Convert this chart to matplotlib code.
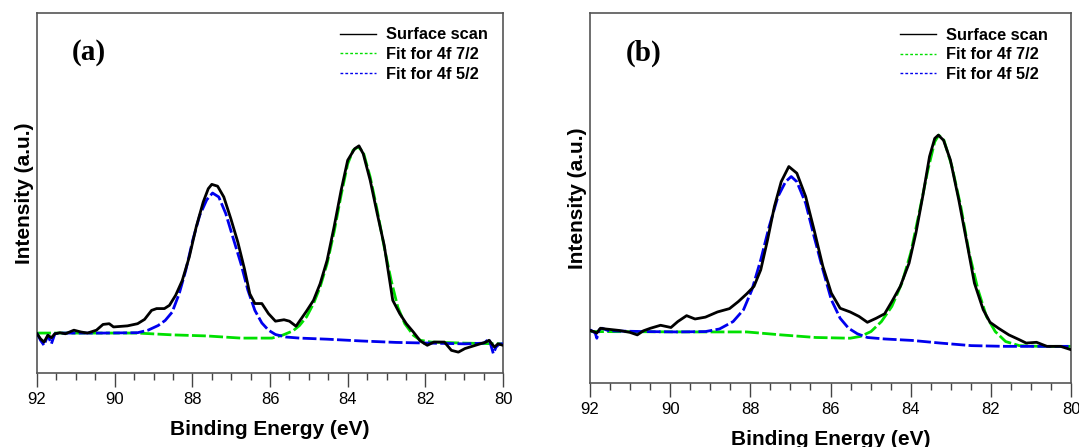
import matplotlib
matplotlib.use("Agg")
import matplotlib.pyplot as plt
from matplotlib.ticker import MultipleLocator

# XPS 4f region, two samples. Intensities in arbitrary units (0-100 of plot height).
e_scan_a = [92.00, 91.91, 91.82, 91.72, 91.63, 91.54, 91.41, 91.27, 91.05, 90.87, 90.70, 90.47,
            90.30, 90.14, 90.03, 89.67, 89.41, 89.23, 89.05, 88.92, 88.72, 88.59, 88.43, 88.26,
            88.08, 87.90, 87.72, 87.59, 87.50, 87.35, 87.19, 87.01, 86.83, 86.66, 86.52, 86.39,
            86.21, 86.04, 85.86, 85.64, 85.50, 85.33, 85.24, 85.06, 84.88, 84.71, 84.53, 84.35,
            84.17, 84.00, 83.82, 83.71, 83.60, 83.42, 83.24, 83.06, 82.84, 82.66, 82.49, 82.31,
            82.13, 81.95, 81.78, 81.51, 81.33, 81.15, 80.98, 80.71, 80.44, 80.36, 80.22, 80.13, 80.00]
i_scan_a = [10.9, 9.5, 8.6, 10.5, 9.8, 10.9, 11.2, 10.9, 11.9, 11.4, 11.1, 11.9,
            13.5, 13.7, 12.8, 13.1, 13.7, 14.9, 17.4, 17.9, 17.9, 18.8, 21.6, 25.7,
            32.2, 40.6, 47.5, 51.2, 52.4, 51.9, 48.9, 42.9, 36.4, 29.0, 22.0, 19.3,
            19.3, 16.5, 14.4, 14.8, 14.4, 13.0, 14.4, 17.2, 20.2, 24.8, 31.3, 40.6,
            50.7, 59.1, 62.3, 63.1, 60.9, 53.5, 44.3, 35.5, 20.2, 16.5, 13.7, 11.4,
            8.9, 7.7, 8.6, 8.6, 6.3, 5.8, 6.8, 7.7, 8.6, 9.1, 7.2, 8.1, 7.7]

e_f72_a = [92.00, 89.41, 88.52, 87.63, 86.75, 85.95, 85.68, 85.41, 85.24, 85.06, 84.88, 84.71,
           84.53, 84.35, 84.17, 84.00, 83.86, 83.73, 83.60, 83.42, 83.24, 83.06, 82.88, 82.71,
           82.53, 82.31, 82.13, 81.86, 80.98, 80.00]
i_f72_a = [11.1, 11.1, 10.6, 10.3, 9.7, 9.7, 10.5, 11.7, 13.2, 15.6, 19.3, 23.9,
           30.4, 39.2, 49.4, 58.1, 61.9, 62.8, 61.4, 54.4, 45.2, 35.0, 25.7, 18.3,
           13.7, 10.5, 9.1, 8.6, 8.3, 8.1]

e_f52_a = [92.00, 91.91, 91.82, 91.72, 91.63, 91.54, 91.41, 90.30, 89.41, 89.14, 88.88, 88.70,
           88.52, 88.34, 88.17, 87.99, 87.81, 87.63, 87.48, 87.32, 87.14, 86.97, 86.75, 86.57,
           86.39, 86.21, 86.04, 85.86, 85.59, 85.24, 84.53, 83.64, 82.75, 81.86, 80.98, 80.49,
           80.36, 80.25, 80.18, 80.09, 80.00]
i_f52_a = [11.1, 9.1, 7.7, 10.5, 8.1, 10.9, 11.1, 11.1, 11.2, 11.9, 13.2, 14.6,
           16.9, 22.0, 28.5, 36.9, 43.8, 48.1, 50.0, 48.9, 44.3, 38.2, 30.4, 23.0,
           17.4, 13.9, 11.9, 10.7, 10.0, 9.7, 9.4, 8.9, 8.5, 8.3, 8.1, 8.3,
           9.5, 5.4, 7.2, 8.1, 8.1]

e_scan_b = [92.00, 91.91, 91.83, 91.74, 91.61, 91.27, 91.01, 90.82, 90.67, 90.49, 90.24, 89.98,
            89.81, 89.59, 89.38, 89.12, 88.82, 88.52, 88.30, 88.09, 87.91, 87.74, 87.57, 87.40,
            87.23, 87.04, 86.84, 86.62, 86.41, 86.19, 85.98, 85.76, 85.51, 85.29, 85.08, 84.86,
            84.65, 84.47, 84.26, 84.04, 83.87, 83.70, 83.53, 83.40, 83.31, 83.18, 83.01, 82.80,
            82.58, 82.41, 82.19, 82.02, 81.81, 81.55, 81.29, 81.12, 80.86, 80.60, 80.26, 80.00]
i_scan_b = [14.2, 13.9, 13.5, 14.8, 14.6, 14.2, 13.7, 13.0, 14.1, 14.8, 15.6, 15.0,
            16.6, 18.2, 17.3, 17.8, 19.2, 20.1, 22.0, 24.1, 26.1, 30.6, 38.7, 47.7,
            54.4, 58.5, 56.7, 50.4, 41.4, 31.5, 24.3, 20.2, 19.2, 18.0, 16.4, 17.5,
            18.7, 22.0, 26.1, 32.4, 40.5, 50.4, 61.2, 66.1, 67.0, 65.6, 60.3, 49.5,
            36.9, 27.0, 19.8, 16.4, 14.8, 13.0, 11.7, 10.8, 11.0, 9.9, 9.9, 9.0]

e_f72_b = [92.00, 89.38, 88.95, 88.09, 87.23, 86.37, 85.51, 85.25, 84.99, 84.73, 84.47, 84.22,
           84.00, 83.79, 83.57, 83.40, 83.30, 83.17, 82.97, 82.75, 82.54, 82.32, 82.11, 81.89,
           81.63, 81.29, 80.77, 80.00]
i_f72_b = [13.9, 13.8, 13.8, 13.8, 13.0, 12.3, 12.1, 12.6, 13.9, 16.6, 20.7, 27.0,
           35.1, 45.9, 57.6, 65.2, 67.0, 65.6, 58.5, 47.7, 35.1, 25.2, 18.0, 13.9,
           11.2, 10.1, 9.9, 9.9]

e_f52_b = [92.00, 91.87, 91.83, 91.77, 91.70, 91.53, 90.67, 89.81, 89.12, 88.77, 88.43, 88.17,
           87.96, 87.74, 87.53, 87.31, 87.12, 86.98, 86.84, 86.62, 86.41, 86.19, 85.98, 85.76,
           85.55, 85.33, 85.08, 84.65, 83.96, 83.27, 82.49, 81.63, 80.77, 80.00]
i_f52_b = [14.4, 13.5, 12.1, 14.4, 14.8, 14.1, 13.9, 13.8, 13.9, 14.6, 16.6, 19.8,
           25.2, 33.3, 42.3, 50.4, 54.4, 55.8, 54.4, 48.6, 39.6, 30.6, 22.5, 17.5,
           14.8, 13.3, 12.3, 11.9, 11.5, 10.8, 10.1, 9.9, 9.9, 9.9]

xticks = [92, 90, 88, 86, 84, 82, 80]
series_labels = ["Surface scan", "Fit for 4f 7/2", "Fit for 4f 5/2"]

plt.rcParams["font.family"] = ["Liberation Sans", "DejaVu Sans"]

fig = plt.figure(figsize=(10.79, 4.47), dpi=100)
ax_a = fig.add_axes([0.0343, 0.1655, 0.4319, 0.8054])
ax_b = fig.add_axes([0.5468, 0.1432, 0.4458, 0.8277])

panels = [
    (ax_a, "(a)", e_scan_a, i_scan_a, e_f72_a, i_f72_a, e_f52_a, i_f52_a, 0.650),
    (ax_b, "(b)", e_scan_b, i_scan_b, e_f72_b, i_f72_b, e_f52_b, i_f52_b, 0.645),
]

for ax, tag, es, is_, eg, ig, eb, ib, leg_x in panels:
    ax.plot(es, is_, color="black", lw=2.0, zorder=4, label=series_labels[0])
    ax.plot(eg, ig, color="#00e000", lw=2.0, ls=(0, (5, 1.2)), zorder=2, label=series_labels[1])
    ax.plot(eb, ib, color="#0000ee", lw=2.0, ls=(0, (5, 1.2)), zorder=3, label=series_labels[2])

    ax.set_xlim(92, 80)
    ax.set_ylim(0, 100)
    ax.set_xticks(xticks)
    ax.xaxis.set_minor_locator(MultipleLocator(0.5))
    ax.set_yticks([])
    ax.tick_params(axis="x", which="major", direction="out", length=10, width=1,
                   color="#444444", labelsize=12, pad=4, top=False)
    ax.tick_params(axis="x", which="minor", direction="out", length=5, width=1,
                   color="#444444", top=False)
    for sp in ax.spines.values():
        sp.set_color("#555555")
        sp.set_linewidth(1.2)

    ax.set_xlabel("Binding Energy (eV)", fontsize=15, fontweight="bold", labelpad=9)
    ax.set_ylabel("Intensity (a.u.)", fontsize=15, fontweight="bold", labelpad=2)
    ax.text(0.075, 0.89, tag, transform=ax.transAxes, family=["Liberation Serif", "DejaVu Serif"],
            fontsize=21, fontweight="bold", va="center", ha="left")

    leg = ax.legend(loc="upper left", bbox_to_anchor=(leg_x, 0.96), frameon=False,
                    prop={"weight": "bold", "size": 11.8}, handlelength=2.2,
                    handletextpad=0.6, labelspacing=0.28, borderpad=0, borderaxespad=0)
    for line in leg.get_lines():
        line.set_linewidth(1.0)
        line.set_linestyle("-" if line.get_color() == "black" else (0, (2, 1.5)))

fig.savefig("out.png", dpi=100)
